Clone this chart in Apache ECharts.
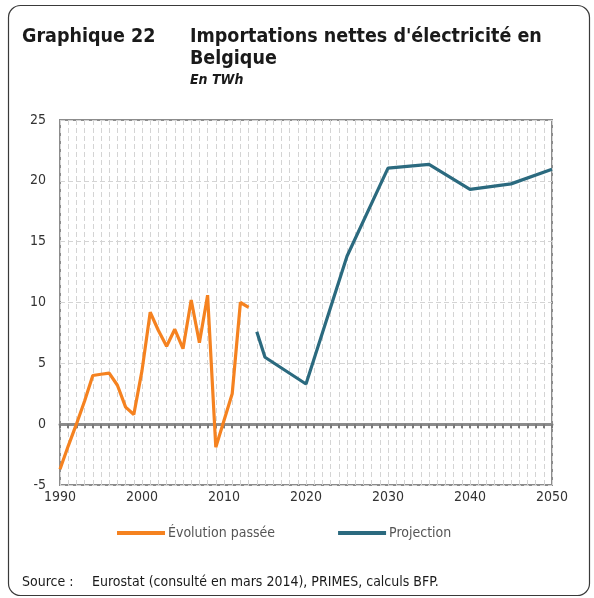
<!DOCTYPE html>
<html>
<head>
<meta charset="utf-8">
<title>Importations nettes d'électricité en Belgique</title>
<script src="https://cdn.jsdelivr.net/npm/echarts@6/dist/echarts.min.js"></script>
<style>
  html, body { margin: 0; padding: 0; background: #fff; }
  #chart { width: 594px; height: 598px; }
</style>
</head>
<body>
<div id="chart"></div>
<script>
// évolution passée (Eurostat), en TWh
var pastYears = [1990, 1991, 1992, 1993, 1994, 1995, 1996, 1997, 1998, 1999, 2000, 2001,
                 2002, 2003, 2004, 2005, 2006, 2007, 2008, 2009, 2010, 2011, 2012, 2013];
var pastValues = [-3.7, -1.8, 0.0, 1.9, 4.0, 4.1, 4.2, 3.2, 1.4, 0.8, 4.4, 9.2,
                  7.7, 6.4, 7.8, 6.2, 10.2, 6.7, 10.6, -1.9, 0.3, 2.5, 10.0, 9.6];
// projection PRIMES
var projYears = [2014, 2015, 2020, 2025, 2030, 2035, 2040, 2045, 2050];
var projValues = [7.6, 5.5, 3.3, 13.8, 21.05, 21.35, 19.3, 19.75, 20.95];

var yTicks = [-5, 0, 5, 10, 15, 20, 25];

function pairs(xs, ys) {
  var out = [];
  for (var i = 0; i < xs.length; i++) {
    out.push([xs[i], ys[i]]);
  }
  return out;
}

var font = 'Tahoma, "DejaVu Sans Condensed", "DejaVu Sans", sans-serif';
var gridDash = { color: '#d4d4d4', type: [5, 3], width: 1 };

var myChart = echarts.init(document.getElementById('chart'), null, { renderer: 'canvas' });
var option = {
  animation: false,
  backgroundColor: '#fff',
  textStyle: { fontFamily: font },
  title: [
    { text: 'Graphique 22', left: 22, top: 27, padding: 0,
      textStyle: { fontSize: 19.5, fontWeight: 'bold', color: '#1a1a1a', fontFamily: font } },
    { text: "Importations nettes d'électricité en\nBelgique", left: 190, top: 26, padding: 0,
      textStyle: { fontSize: 19.5, fontWeight: 'bold', color: '#1a1a1a', lineHeight: 22, fontFamily: font } },
    { text: 'En TWh', left: 190, top: 73, padding: 0,
      textStyle: { fontSize: 14, fontWeight: 'bold', fontStyle: 'italic', color: '#1a1a1a', fontFamily: font } },
    { text: 'Source :', left: 22, top: 575, padding: 0,
      textStyle: { fontSize: 14, fontWeight: 'normal', color: '#1a1a1a', fontFamily: font } },
    { text: 'Eurostat (consulté en mars 2014), PRIMES, calculs BFP.', left: 92, top: 575, padding: 0,
      textStyle: { fontSize: 14, fontWeight: 'normal', color: '#1a1a1a', fontFamily: font } }
  ],
  graphic: [
    { type: 'rect', shape: { x: 8.5, y: 5.5, width: 581, height: 590, r: 12 },
      style: { fill: 'none', stroke: '#3a3a3a', lineWidth: 1.2 }, silent: true, z: -1 }
  ],
  legend: {
    left: 117, top: 526, padding: 0,
    icon: 'rect', itemWidth: 48, itemHeight: 4, itemGap: 63,
    textStyle: { fontSize: 14, color: '#555', fontFamily: font, padding: [0, 0, 0, -2] },
    data: ['Évolution passée', 'Projection']
  },
  grid: {
    left: 60, right: 42, top: 120, bottom: 113,
    show: true, borderColor: '#8c8c8c', borderWidth: 2, backgroundColor: 'transparent'
  },
  xAxis: [
    {
      // axe à zéro : ligne épaisse avec graduations annuelles
      type: 'value', min: 1990, max: 2050, interval: 10,
      axisLine: { onZero: true, lineStyle: { color: '#8c8c8c', width: 3 } },
      axisTick: { show: true, length: 4, lineStyle: { color: '#7a7a7a', width: 2 } },
      minorTick: { show: true, splitNumber: 10, length: 4, lineStyle: { color: '#7a7a7a', width: 2 } },
      axisLabel: { show: false },
      splitLine: { show: true, lineStyle: gridDash },
      minorSplitLine: { show: true, lineStyle: gridDash },
      z: 5
    },
    {
      type: 'value', min: 1990, max: 2050, interval: 10, position: 'bottom',
      axisLine: { onZero: false, show: false },
      axisTick: { show: false },
      axisLabel: { fontSize: 14, color: '#333', margin: 5, fontFamily: font,
        formatter: function (v) { return String(v); } },
      splitLine: { show: false }
    }
  ],
  yAxis: {
    type: 'value', min: -5, max: 25, interval: 5,
    axisLine: { show: false },
    axisTick: { show: false },
    axisLabel: { fontSize: 14, color: '#333', margin: 14, fontFamily: font,
      formatter: function (v) { return yTicks.indexOf(v) >= 0 ? String(v) : ''; } },
    splitLine: { show: true, lineStyle: gridDash }
  },
  series: [
    {
      name: 'Évolution passée', type: 'line', xAxisIndex: 0,
      data: pairs(pastYears, pastValues),
      showSymbol: false, symbol: 'none',
      lineStyle: { color: '#f58220', width: 3.2 },
      itemStyle: { color: '#f58220' },
      z: 10
    },
    {
      name: 'Projection', type: 'line', xAxisIndex: 0,
      data: pairs(projYears, projValues),
      showSymbol: false, symbol: 'none',
      lineStyle: { color: '#2b6a7f', width: 3.2 },
      itemStyle: { color: '#2b6a7f' },
      z: 10
    }
  ]
};
myChart.setOption(option);
</script>
</body>
</html>
